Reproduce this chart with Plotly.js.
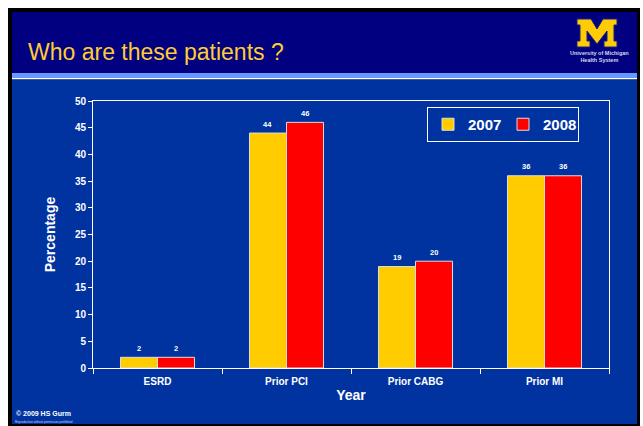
<!DOCTYPE html>
<html><head><meta charset="utf-8">
<script src="https://cdn.plot.ly/plotly-3.0.1.min.js"></script>
<style>html,body{margin:0;padding:0;background:#fff;}#chart{width:643px;height:426px;}</style>
</head><body><div id="chart"></div>
<script>
const categories = ['ESRD', 'Prior PCI', 'Prior CABG', 'Prior MI'];
const seriesNames = ['2007', '2008'];
const values2007 = [2, 44, 19, 36];
const values2008 = [2, 46, 20, 36];
const yTickValues = [0, 5, 10, 15, 20, 25, 30, 35, 40, 45, 50];
const titleText = 'Who are these patients ?';
const yTitle = 'Percentage';
const xTitle = 'Year';

const W = 643, H = 426;
const M = {l: 93, r: 34, t: 101, b: 58};
const PW = W - M.l - M.r, PH = H - M.t - M.b;
const fx = p => (p - M.l) / PW;
const fy = p => (H - M.b - p) / PH;
const FONT = 'Arial, "Liberation Sans", sans-serif';

const seriesValues = [values2007, values2008];
const seriesColors = ['#FFCC00', '#FF0000'];
const bargap = 0.426;

const traces = seriesNames.map((n, k) => ({
  type: 'bar', name: n, x: categories, y: seriesValues[k],
  marker: {color: seriesColors[k], line: {color: '#DDDDDD', width: 1}},
  hoverinfo: 'none'
}));

// value labels above bars
const catPx = PW / categories.length;
const barPx = catPx * (1 - bargap) / 2;
const annotations = [];
seriesValues.forEach((vals, k) => {
  vals.forEach((v, i) => {
    annotations.push({
      x: categories[i], y: v, xref: 'x', yref: 'y', text: String(v), showarrow: false,
      xshift: (k - 0.5) * barPx, yshift: 9, yanchor: 'middle',
      font: {family: FONT, size: 7.5, color: '#FFFFFF', weight: 'bold'}
    });
  });
});

// slide decorations
annotations.push({xref: 'paper', yref: 'paper', x: fx(26), y: fy(52), xanchor: 'left', yanchor: 'middle',
  text: titleText, showarrow: false, font: {family: FONT, size: 23, color: '#FFCC33'}});
annotations.push({xref: 'paper', yref: 'paper', x: fx(599), y: fy(56.5), xanchor: 'center', yanchor: 'middle',
  text: 'University of Michigan<br>Health System', showarrow: false, borderpad: 0,
  font: {family: FONT, size: 5.5, color: '#D8D8E8', weight: 'bold'}});
annotations.push({xref: 'paper', yref: 'paper', x: fx(14), y: fy(413), xanchor: 'left', yanchor: 'middle',
  text: '© 2009 HS Gurm', showarrow: false, font: {family: FONT, size: 7, color: '#FFFFFF', weight: 'bold'}});
annotations.push({xref: 'paper', yref: 'paper', x: fx(14), y: fy(421.5), xanchor: 'left', yanchor: 'middle',
  text: 'Reproduction without permission prohibited', showarrow: false, borderpad: 0,
  font: {family: FONT, size: 3, color: '#D0D0E0'}});

const rect = (x0, y0, x1, y1, color) => ({type: 'rect', xref: 'paper', yref: 'paper', layer: 'below',
  x0: fx(x0), x1: fx(x1), y0: fy(y0), y1: fy(y1), fillcolor: color, line: {width: 0}});

// block "M" logo outline (decoration), in slide pixels
const logoPts = [[577,19],[591,19],[597,29],[603,19],[617,19],[617,25],[614,25],[614,41],[617,41],[617,47],
  [604,47],[604,41],[607,41],[607,31],[597,44],[587,31],[587,41],[590,41],[590,47],[577,47],[577,41],
  [580,41],[580,25],[577,25]];
const logoPath = 'M' + logoPts.map(p => fx(p[0]) + ',' + fy(p[1])).join(' L') + ' Z';

const shapes = [
  rect(8, 8, 640, 426, '#000000'),
  rect(12, 12, 637, 73, '#000080'),
  rect(12, 73, 637, 78, '#6699FF'),
  rect(12, 78, 637, 79.5, '#FFFFFF'),
  rect(12, 79.5, 637, 424, '#0033A0'),
  {type: 'path', xref: 'paper', yref: 'paper', layer: 'above', path: logoPath,
   fillcolor: '#FFCB05', line: {color: '#1A237E', width: 1}}
];

const layout = {
  width: W, height: H, margin: M,
  paper_bgcolor: '#FFFFFF', plot_bgcolor: 'rgba(0,0,0,0)',
  barmode: 'group', bargap: bargap, bargroupgap: 0,
  font: {family: FONT, color: '#FFFFFF'},
  showlegend: true,
  legend: {x: fx(427), y: fy(107), xanchor: 'left', yanchor: 'top', orientation: 'h',
    entrywidth: 30, entrywidthmode: 'pixels',
    bgcolor: 'rgba(0,0,0,0)', bordercolor: '#FFFFFF', borderwidth: 1,
    font: {family: FONT, size: 15, color: '#FFFFFF', weight: 'bold'}, itemclick: false},
  xaxis: {type: 'category', showline: true, linecolor: '#FFFFFF', linewidth: 1, mirror: true,
    ticks: 'outside', tickson: 'boundaries', ticklen: 5, tickcolor: '#FFFFFF', tickwidth: 1,
    ticklabelstandoff: 4,
    tickfont: {family: FONT, size: 10, color: '#FFFFFF', weight: 'bold'},
    title: {text: xTitle, standoff: 4, font: {family: FONT, size: 14, color: '#FFFFFF', weight: 'bold'}},
    showgrid: false, zeroline: false, fixedrange: true},
  yaxis: {range: [0, 50], tickvals: yTickValues, showline: true, linecolor: '#FFFFFF', linewidth: 1, mirror: true,
    ticks: 'outside', ticklen: 4, tickcolor: '#FFFFFF', tickwidth: 1,
    tickfont: {family: FONT, size: 10, color: '#FFFFFF', weight: 'bold'},
    title: {text: yTitle, standoff: 15, font: {family: FONT, size: 14, color: '#FFFFFF', weight: 'bold'}},
    showgrid: false, zeroline: false, fixedrange: true},
  shapes: shapes, annotations: annotations
};

Plotly.newPlot('chart', traces, layout, {displayModeBar: false, staticPlot: true});
</script></body></html>
